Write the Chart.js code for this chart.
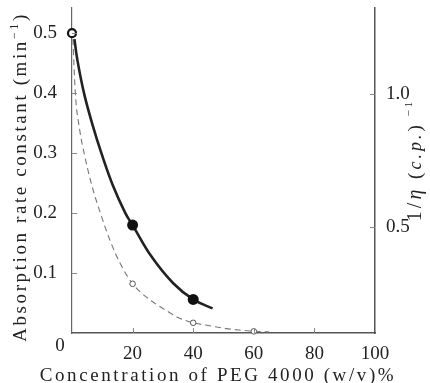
<!DOCTYPE html>
<html>
<head>
<meta charset="utf-8">
<script src="https://cdn.jsdelivr.net/npm/chart.js@4.4.1/dist/chart.umd.min.js"></script>
<style>
  html, body { margin: 0; padding: 0; background: #fff; }
  #wrap { width: 430px; height: 383px; }
</style>
</head>
<body>
<div id="wrap"><canvas id="chart"></canvas></div>
<script>
// Solid curve: absorption rate constant (min-1)
var solidX = [0.8, 1.75, 3.96, 6.9, 9.7, 13.5, 17.6, 20, 26.3, 33.4, 40, 46.4];
var solidY = [0.49, 0.456, 0.40, 0.345, 0.30, 0.246, 0.20, 0.18, 0.127, 0.083, 0.056, 0.041];

// Dashed curve: 1/viscosity
var dashX = [0.3, 1.1, 2.5, 4, 6.6, 9.7, 12.5, 16, 20, 25, 30, 35, 40, 45, 50, 55, 60, 65];
var dashY = [0.49, 0.40, 0.34, 0.30, 0.245, 0.195, 0.155, 0.115, 0.082, 0.058, 0.041, 0.026, 0.017, 0.0125, 0.008, 0.005, 0.003, 0.0018];

// Measured points
var filledX = [20, 40];
var filledY = [0.18, 0.056];
var openX = [20, 40, 60];
var openY = [0.082, 0.017, 0.0027];
var startX = [0];
var startY = [0.5];

// Axis ticks
var xTicks = [0, 20, 40, 60, 80, 100];
var yTicks = [0, 0.1, 0.2, 0.3, 0.4, 0.5];
var rightTicks = [0.5, 1.0];

function pts(xs, ys) {
    return xs.map(function (x, i) { return { x: x, y: ys[i] }; });
}

var serif = '"Liberation Serif", "DejaVu Serif", serif';
var ink = '#222';

function noPad(s) {
    s.paddingTop = 0;
    s.paddingBottom = 0;
    s.paddingLeft = 0;
    s.paddingRight = 0;
}

// draws inward tick marks, the corner zero and the axis titles
var decorPlugin = {
    id: 'decor',
    afterDraw: function (chart) {
        var ctx = chart.ctx, a = chart.chartArea;
        var sx = chart.scales.x, sy = chart.scales.y, sr = chart.scales.y1;
        ctx.save();

        ctx.strokeStyle = '#888';
        ctx.lineWidth = 1;
        ctx.beginPath();
        xTicks.forEach(function (v) {
            if (v > 0 && v < 100) {
                var px = Math.round(sx.getPixelForValue(v)) + 0.5;
                ctx.moveTo(px, a.bottom);
                ctx.lineTo(px, a.bottom - 5);
            }
        });
        yTicks.forEach(function (v) {
            if (v > 0) {
                var py = Math.round(sy.getPixelForValue(v)) + 0.5;
                ctx.moveTo(a.left, py);
                ctx.lineTo(a.left + 5, py);
            }
        });
        rightTicks.forEach(function (v) {
            var py = Math.round(sr.getPixelForValue(v)) + 0.5;
            ctx.moveTo(a.right, py);
            ctx.lineTo(a.right - 5, py);
        });
        ctx.stroke();

        ctx.fillStyle = ink;
        ctx.font = '19px ' + serif;
        ctx.textAlign = 'center';
        ctx.textBaseline = 'middle';
        ctx.fillText('0', 60, 346);

        // x title
        ctx.letterSpacing = '2.6px';
        ctx.textBaseline = 'alphabetic';
        ctx.fillText('Concentration of PEG 4000 (w/v)%', 218, 381);

        // left title, rotated
        ctx.save();
        ctx.translate(26, 177);
        ctx.rotate(-Math.PI / 2);
        ctx.textAlign = 'left';
        var main = 'Absorption rate constant (min';
        ctx.font = '19px ' + serif;
        var w1 = ctx.measureText(main).width;
        ctx.font = '12px ' + serif;
        var w2 = ctx.measureText('\u22121').width;
        ctx.font = '19px ' + serif;
        var w3 = ctx.measureText(')').width;
        var x0 = -(w1 + w2 + w3) / 2;
        ctx.fillText(main, x0, 0);
        ctx.font = '12px ' + serif;
        ctx.fillText('\u22121', x0 + w1, -8);
        ctx.font = '19px ' + serif;
        ctx.fillText(')', x0 + w1 + w2, 0);
        ctx.restore();

        // right title, rotated
        ctx.save();
        ctx.translate(421, 160);
        ctx.rotate(-Math.PI / 2);
        ctx.textAlign = 'left';
        ctx.letterSpacing = '3px';
        var parts = [
            ['1/', '20px ' + serif, 0],
            ['\u03b7', 'italic 20px ' + serif, 0],
            [' (', '19px ' + serif, 0],
            ['c.p.', 'italic 18px ' + serif, 0],
            [')', '19px ' + serif, 0],
            [' \u22121', '11px ' + serif, -9]
        ];
        var total = 0;
        parts.forEach(function (p) { ctx.font = p[1]; total += ctx.measureText(p[0]).width; });
        var cx = -total / 2;
        parts.forEach(function (p) {
            ctx.font = p[1];
            ctx.fillText(p[0], cx, p[2]);
            cx += ctx.measureText(p[0]).width;
        });
        ctx.restore();

        ctx.restore();
    }
};

var ctx = document.getElementById('chart').getContext('2d');
var myChart = new Chart(ctx, {
    type: 'scatter',
    data: {
        datasets: [
            {
                data: pts(startX, startY),
                pointRadius: 4,
                pointBorderWidth: 2.2,
                pointBackgroundColor: '#fff',
                pointBorderColor: '#111',
                clip: false,
                order: 0
            },
            {
                data: pts(filledX, filledY),
                pointRadius: 5.5,
                pointBorderWidth: 0,
                pointBackgroundColor: '#111',
                pointBorderColor: '#111',
                clip: false,
                order: 0
            },
            {
                data: pts(openX, openY),
                pointRadius: 2.8,
                pointBorderWidth: 1,
                pointBackgroundColor: '#fff',
                pointBorderColor: '#555',
                clip: false,
                order: 0
            },
            {
                data: pts(solidX, solidY),
                showLine: true,
                pointRadius: 0,
                borderColor: '#222',
                borderWidth: 2.6,
                tension: 0.4,
                order: 1
            },
            {
                data: pts(dashX, dashY),
                showLine: true,
                pointRadius: 0,
                borderColor: '#777',
                borderWidth: 1.1,
                borderDash: [6, 4],
                cubicInterpolationMode: 'monotone',
                order: 1
            }
        ]
    },
    options: {
        responsive: true,
        maintainAspectRatio: false,
        animation: false,
        devicePixelRatio: 1,
        layout: { padding: { top: 8, left: 0, right: 0, bottom: 0 } },
        plugins: {
            legend: { display: false },
            tooltip: { enabled: false }
        },
        scales: {
            x: {
                type: 'linear',
                min: 0,
                max: 100,
                afterBuildTicks: function (s) { s.ticks = xTicks.map(function (v) { return { value: v }; }); },
                afterFit: function (s) { s.height = 50; noPad(s); },
                grid: { display: false },
                border: { color: '#555', width: 1.5 },
                ticks: {
                    autoSkip: false,
                    maxRotation: 0,
                    padding: 2,
                    color: ink,
                    font: { family: serif, size: 19 },
                    callback: function (v) { return v === 0 ? '' : String(v); }
                }
            },
            y: {
                position: 'left',
                min: 0,
                max: 0.542,
                afterBuildTicks: function (s) { s.ticks = yTicks.map(function (v) { return { value: v }; }); },
                afterFit: function (s) { s.width = 72; noPad(s); },
                grid: { display: false },
                border: { color: '#666', width: 1.2 },
                ticks: {
                    autoSkip: false,
                    padding: 7,
                    color: ink,
                    font: { family: serif, size: 19 },
                    callback: function (v) { return v === 0 ? '' : v.toFixed(1); }
                }
            },
            y1: {
                position: 'right',
                min: 0.10,
                max: 1.323,
                afterBuildTicks: function (s) { s.ticks = rightTicks.map(function (v) { return { value: v }; }); },
                afterFit: function (s) { s.width = 55; noPad(s); },
                grid: { display: false },
                border: { color: '#555', width: 1.5 },
                ticks: {
                    autoSkip: false,
                    padding: 3,
                    color: ink,
                    font: { family: serif, size: 19 },
                    callback: function (v) { return v.toFixed(1); }
                }
            }
        }
    },
    plugins: [decorPlugin]
});
</script>
</body>
</html>
